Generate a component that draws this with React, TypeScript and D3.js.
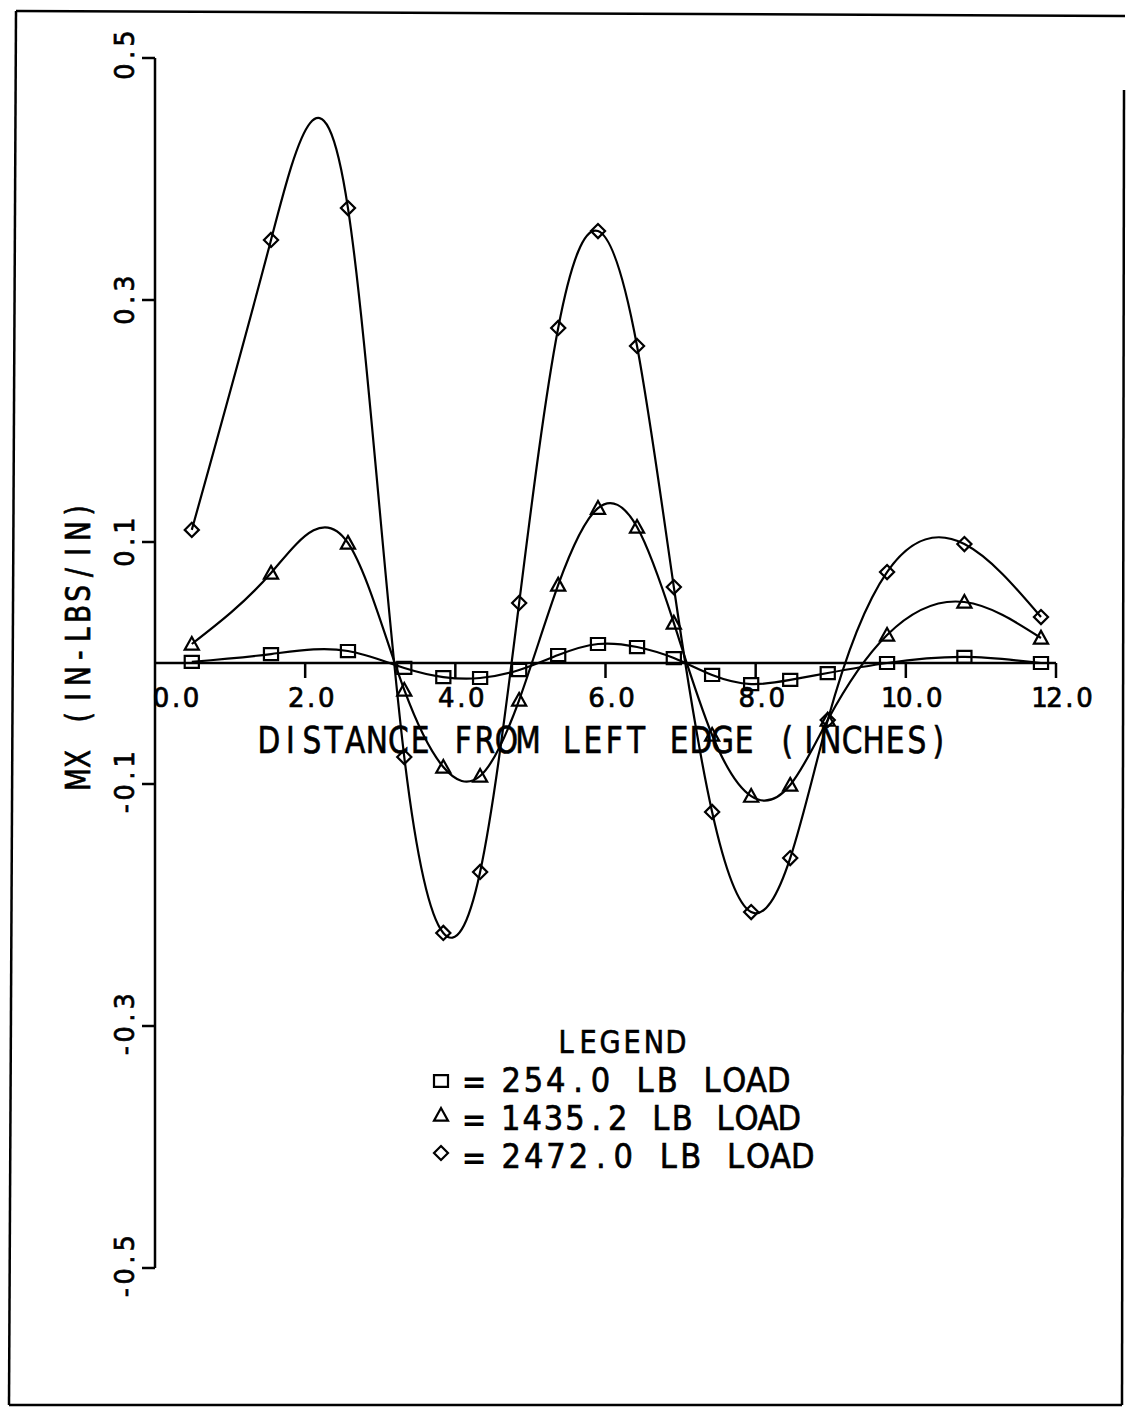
import React from "react";
import * as d3 from "d3";

// station positions along the plate (inches)
const stations = [0.49, 1.545, 2.57, 3.32, 3.84, 4.33, 4.85, 5.37, 5.9, 6.42, 6.91, 7.42, 7.94, 8.46, 8.96, 9.75, 10.78, 11.8];

// MX values for each load case
const load254 = [0.001, 0.0074, 0.0099, -0.0041, -0.0116, -0.0124, -0.0058, 0.0066, 0.0157, 0.0132, 0.0041, -0.0099, -0.0174, -0.014, -0.0083, 0.0, 0.005, 0.0];
const load1435 = [0.0157, 0.0744, 0.0992, -0.0223, -0.086, -0.0934, -0.0306, 0.0645, 0.128, 0.1124, 0.0331, -0.0595, -0.11, -0.1008, -0.0471, 0.0231, 0.0504, 0.0207];
const load2472 = [0.11, 0.3496, 0.376, -0.0777, -0.2231, -0.1727, 0.0496, 0.2769, 0.357, 0.262, 0.0628, -0.1231, -0.2058, -0.1612, -0.0471, 0.0752, 0.0983, 0.038];

const xTicks = [0, 2, 4, 6, 8, 10, 12];
const xTickLabels = ["0.0", "2.0", "4.0", "6.0", "8.0", "10.0", "12.0"];
const yTicks = [0.5, 0.3, 0.1, -0.1, -0.3, -0.5];
const yTickLabels = ["0.5", "0.3", "0.1", "-0.1", "-0.3", "-0.5"];

const seriesNames = ["254.0 LB LOAD", "1435.2 LB LOAD", "2472.0 LB LOAD"];
const seriesValues = [load254, load1435, load2472];
const seriesMarkers = ["square", "triangle", "diamond"];

const FONT = "'DejaVu Sans', sans-serif";

// natural cubic spline y(x), drawn as bezier pieces
function curveSplineX(context: any) {
  let xs: number[] = [];
  let ys: number[] = [];
  return {
    areaStart() {},
    areaEnd() {},
    lineStart() {
      xs = [];
      ys = [];
    },
    point(px: number, py: number) {
      xs.push(+px);
      ys.push(+py);
    },
    lineEnd() {
      const n = xs.length;
      if (!n) return;
      context.moveTo(xs[0], ys[0]);
      if (n < 3) {
        if (n === 2) context.lineTo(xs[1], ys[1]);
        return;
      }
      const h: number[] = [];
      for (let i = 0; i < n - 1; i++) h.push(xs[i + 1] - xs[i]);
      const a: number[] = [], b: number[] = [], c: number[] = [], r: number[] = [];
      for (let i = 1; i < n - 1; i++) {
        a.push(h[i - 1]);
        b.push(2 * (h[i - 1] + h[i]));
        c.push(h[i]);
        r.push(6 * ((ys[i + 1] - ys[i]) / h[i] - (ys[i] - ys[i - 1]) / h[i - 1]));
      }
      const m = b.length;
      for (let i = 1; i < m; i++) {
        const w = a[i] / b[i - 1];
        b[i] -= w * c[i - 1];
        r[i] -= w * r[i - 1];
      }
      const M = new Array(n).fill(0);
      M[m] = r[m - 1] / b[m - 1];
      for (let i = m - 2; i >= 0; i--) M[i + 1] = (r[i] - c[i] * M[i + 2]) / b[i];
      for (let i = 0; i < n - 1; i++) {
        const hi = h[i];
        const s = (ys[i + 1] - ys[i]) / hi;
        const m0 = s - (hi * (2 * M[i] + M[i + 1])) / 6;
        const m1 = s + (hi * (M[i] + 2 * M[i + 1])) / 6;
        context.bezierCurveTo(
          xs[i] + hi / 3, ys[i] + (m0 * hi) / 3,
          xs[i + 1] - hi / 3, ys[i + 1] - (m1 * hi) / 3,
          xs[i + 1], ys[i + 1]
        );
      }
    },
  };
}

// custom marker shapes (size = width^2)
const markerTypes: Record<string, d3.SymbolType> = {
  square: {
    draw(ctx, size) {
      const r = Math.sqrt(size) / 2;
      ctx.moveTo(-r, -r * 0.85);
      ctx.lineTo(r, -r * 0.85);
      ctx.lineTo(r, r * 0.85);
      ctx.lineTo(-r, r * 0.85);
      ctx.closePath();
    },
  },
  triangle: {
    draw(ctx, size) {
      const r = Math.sqrt(size) / 2;
      ctx.moveTo(0, -r);
      ctx.lineTo(r, r * 0.8);
      ctx.lineTo(-r, r * 0.8);
      ctx.closePath();
    },
  },
  diamond: {
    draw(ctx, size) {
      const r = Math.sqrt(size) / 2;
      ctx.moveTo(0, -r);
      ctx.lineTo(r, 0);
      ctx.lineTo(0, r);
      ctx.lineTo(-r, 0);
      ctx.closePath();
    },
  },
};

// plotter-style fixed pitch lettering
function MonoText(props: {
  x: number;
  y: number;
  text: string;
  pitch: number;
  size: number;
  sx?: number;
  rotate?: number;
  anchor?: "start" | "middle";
}) {
  const { x, y, text, pitch, size, sx = 1, rotate = 0, anchor = "start" } = props;
  const total = text.length * pitch;
  const off = anchor === "middle" ? -total / 2 : 0;
  const xs = Array.from(text).map((_, i) => ((off + (i + 0.5) * pitch) / sx).toFixed(2));
  return (
    <g transform={`translate(${x},${y}) rotate(${rotate}) scale(${sx},1)`}>
      <text
        x={xs.join(" ")}
        y={0}
        textAnchor="middle"
        fontFamily={FONT}
        fontSize={size}
        fill="#000"
        stroke="#000"
        strokeWidth={0.7}
      >
        {text}
      </text>
    </g>
  );
}

export default function App() {
  const W = 1128;
  const H = 1410;

  const x = d3.scaleLinear().domain([0, 12]).range([155, 1056]);
  const y = d3.scaleLinear().domain([-0.5, 0.5]).range([1268, 58]);

  const line = d3
    .line<[number, number]>()
    .x((d) => x(d[0]))
    .y((d) => y(d[1]))
    .curve(curveSplineX as any);

  const sym = (name: string, size: number) => d3.symbol().type(markerTypes[name]).size(size)()!;

  const legendX = 441;
  const legendRows = [1081, 1115, 1153];
  const legendBaselines = [1092, 1130, 1168];
  const legendEnds = [790, 800, 814];

  return (
    <svg width={W} height={H} style={{ position: "absolute", left: 0, top: 0, background: "#fff" }}>
      <rect x={0} y={0} width={W} height={H} fill="#fff" />

      {/* page frame */}
      <g stroke="#000" strokeWidth={2.5} fill="none">
        <line x1={16} y1={11} x2={1125} y2={16} />
        <line x1={16} y1={11} x2={9} y2={1405} />
        <line x1={9} y1={1405} x2={1122} y2={1405} />
        <line x1={1124} y1={90} x2={1122} y2={1405} />
      </g>

      {/* y axis */}
      <g stroke="#000" strokeWidth={2.5} fill="none">
        <line x1={x(0)} y1={y(0.5)} x2={x(0)} y2={y(-0.5)} />
        {yTicks.map((t) => (
          <line key={t} x1={x(0) - 13} y1={y(t)} x2={x(0)} y2={y(t)} />
        ))}
      </g>
      {yTicks.map((t, i) => (
        <MonoText
          key={t}
          x={134}
          y={y(t) - (t === 0.5 ? 3 : 0)}
          rotate={-90}
          anchor="middle"
          text={yTickLabels[i]}
          pitch={16.5}
          size={27}
          sx={0.95}
        />
      ))}
      <MonoText x={90} y={645} rotate={-90} anchor="middle" text="MX (IN-LBS/IN)" pitch={20.7} size={33} sx={0.8} />

      {/* x axis */}
      <g stroke="#000" strokeWidth={2.5} fill="none">
        <line x1={x(0)} y1={y(0)} x2={x(12)} y2={y(0)} />
        {xTicks.filter((t) => t > 0).map((t) => (
          <line key={t} x1={x(t)} y1={y(0)} x2={x(t)} y2={y(0) + 15} />
        ))}
      </g>
      {xTicks.map((t, i) => (
        <MonoText
          key={t}
          x={x(t) + (t === 0 ? 21 : 6)}
          y={707}
          anchor="middle"
          text={xTickLabels[i]}
          pitch={15}
          size={26}
          sx={1}
        />
      ))}
      <MonoText x={258} y={753} text="DISTANCE FROM LEFT EDGE (INCHES)" pitch={21.6} size={38} sx={0.78} />

      {/* curves */}
      {seriesValues.map((vals, si) => (
        <path
          key={si}
          d={line(stations.map((s, i) => [s, vals[i]] as [number, number]))!}
          fill="none"
          stroke="#000"
          strokeWidth={2.2}
        />
      ))}

      {/* markers */}
      {seriesValues.map((vals, si) => (
        <g key={si} stroke="#000" strokeWidth={2.2} fill="none">
          {stations.map((s, i) => (
            <path
              key={i}
              transform={`translate(${x(s)},${y(vals[i])})`}
              d={sym(seriesMarkers[si], 200)}
            />
          ))}
        </g>
      ))}

      {/* legend */}
      <MonoText x={621} y={1053} anchor="middle" text="LEGEND" pitch={22} size={32} sx={0.85} />
      {seriesNames.map((name, i) => (
        <g key={name}>
          <path
            transform={`translate(${legendX},${legendRows[i]})`}
            d={sym(seriesMarkers[i], 196)}
            fill="none"
            stroke="#000"
            strokeWidth={2.2}
          />
          <text x={474} y={legendBaselines[i]} textAnchor="middle" fontFamily={FONT} fontSize={30} fontWeight="bold">
            =
          </text>
          <MonoText
            x={500}
            y={legendBaselines[i]}
            text={name}
            pitch={(legendEnds[i] - 500) / name.length}
            size={34}
            sx={0.9}
          />
        </g>
      ))}
    </svg>
  );
}
